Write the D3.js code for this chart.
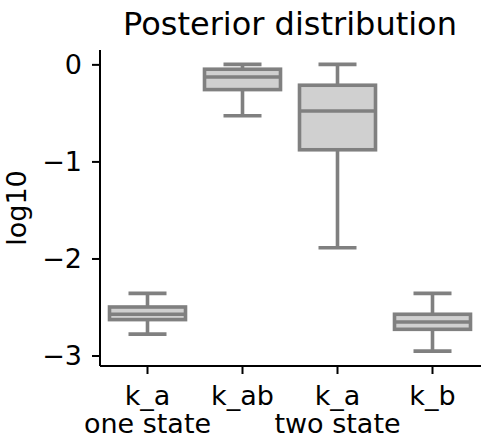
<!DOCTYPE html>
<html>
<head>
<meta charset="utf-8">
<script src="https://cdn.jsdelivr.net/npm/d3@7"></script>
<style>
  body { margin: 0; background: #fff; }
  svg { display: block; font-family: "DejaVu Sans", sans-serif; }
</style>
</head>
<body>
<svg id="chart" width="484" height="438"></svg>
<script>
// ---- data (log10 values) ----
const categories = ["k_a", "k_ab", "k_a", "k_b"];
const groupLabels = ["one state", "", "two state", ""];
const whiskerLow  = [-2.78, -0.53, -1.89, -2.955];
const q1          = [-2.63, -0.26, -0.88, -2.73];
const medians     = [-2.575, -0.13, -0.48, -2.655];
const q3          = [-2.50, -0.05, -0.215, -2.575];
const whiskerHigh = [-2.36, 0.0, 0.0, -2.36];
const yTicks = [0, -1, -2, -3];

const svg = d3.select("#chart");
const margin = {left: 100, right: 4, top: 50, bottom: 72};
const W = 484, H = 438;

const x = d3.scaleBand().domain(d3.range(categories.length))
  .range([margin.left, W - margin.right]).paddingInner(0).paddingOuter(0);
const y = d3.scaleLinear().domain([-3.108, 0.148]).range([H - margin.bottom, margin.top]);

const stroke = "#808080", fill = "#d0d0d0", lw = 3.6;

// boxes
const boxes = svg.append("g");
categories.forEach((c, i) => {
  const cx = x(i) + x.bandwidth() / 2;
  const bw = x.bandwidth() * 0.8;
  const g = boxes.append("g");
  g.append("line").attr("x1", cx).attr("x2", cx)
    .attr("y1", y(q3[i])).attr("y2", y(whiskerHigh[i]))
    .attr("stroke", stroke).attr("stroke-width", lw);
  g.append("line").attr("x1", cx).attr("x2", cx)
    .attr("y1", y(q1[i])).attr("y2", y(whiskerLow[i]))
    .attr("stroke", stroke).attr("stroke-width", lw);
  [whiskerHigh[i], whiskerLow[i]].forEach(v => {
    g.append("line").attr("x1", cx - bw / 4).attr("x2", cx + bw / 4)
      .attr("y1", y(v)).attr("y2", y(v))
      .attr("stroke", stroke).attr("stroke-width", lw);
  });
  g.append("rect").attr("x", cx - bw / 2).attr("width", bw)
    .attr("y", y(q3[i])).attr("height", y(q1[i]) - y(q3[i]))
    .attr("fill", fill).attr("stroke", stroke).attr("stroke-width", lw);
  g.append("line").attr("x1", cx - bw / 2).attr("x2", cx + bw / 2)
    .attr("y1", y(medians[i])).attr("y2", y(medians[i]))
    .attr("stroke", stroke).attr("stroke-width", lw);
});

// axes
const fs = 27;
const yAxis = d3.axisLeft(y).tickValues(yTicks).tickSize(8).tickPadding(10)
  .tickFormat(d => d < 0 ? "\u2212" + Math.abs(d) : d);
const gy = svg.append("g").attr("transform", `translate(${margin.left},0)`).call(yAxis);
gy.select(".domain").attr("d", `M0,${margin.top}V${H - margin.bottom}`).attr("stroke-width", 2);
gy.selectAll(".tick line").attr("stroke-width", 2);
gy.selectAll(".tick text").attr("font-size", fs).attr("font-family", "DejaVu Sans").attr("fill", "#000");

const xAxis = d3.axisBottom(x).tickSize(8).tickPadding(8).tickFormat(i => categories[i]);
const gx = svg.append("g").attr("transform", `translate(0,${H - margin.bottom})`).call(xAxis);
gx.select(".domain").attr("d", `M${margin.left},0H${W - margin.right + 1}`).attr("stroke-width", 2);
gx.selectAll(".tick line").attr("stroke-width", 2);
gx.selectAll(".tick text").attr("font-size", fs).attr("font-family", "DejaVu Sans").attr("fill", "#000")
  .attr("dy", null).attr("y", 39);

// second line of tick labels (group names)
gx.selectAll(".tick").append("text")
  .attr("y", 67).attr("text-anchor", "middle").attr("font-size", fs)
  .attr("font-family", "DejaVu Sans").attr("fill", "#000")
  .text(i => groupLabels[i]);

// title
svg.append("text").attr("x", (margin.left + W - margin.right) / 2).attr("y", 35)
  .attr("text-anchor", "middle").attr("font-size", 32).attr("fill", "#000")
  .text("Posterior distribution");

// y label
svg.append("text").attr("transform", `translate(26,${(margin.top + H - margin.bottom) / 2}) rotate(-90)`)
  .attr("text-anchor", "middle").attr("font-size", fs).attr("fill", "#000").text("log10");
</script>
</body>
</html>
